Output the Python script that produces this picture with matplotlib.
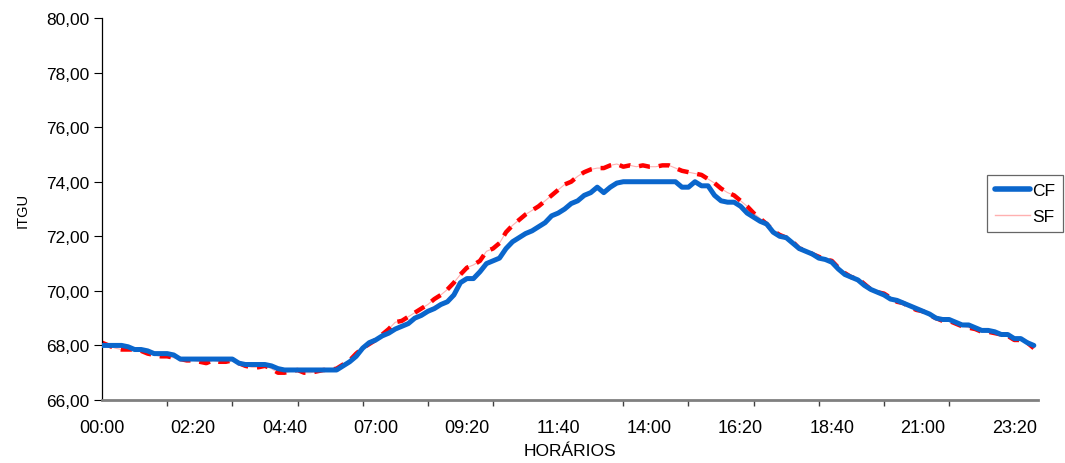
# ITGU ao longo do dia - CF x SF

import numpy as np
import matplotlib.pyplot as plt
from matplotlib.lines import Line2D
from matplotlib.ticker import MultipleLocator, FuncFormatter

# horarios em minutos, de 10 em 10 (00:00 ate 23:50)
minutos = np.arange(0, 1440, 10)

cf = [68.0, 68.0, 68.0, 68.0, 67.95, 67.85, 67.85, 67.8, 67.7, 67.7,
      67.7, 67.65, 67.5, 67.5, 67.5, 67.5, 67.5, 67.5, 67.5, 67.5,
      67.5, 67.35, 67.3, 67.3, 67.3, 67.3, 67.25, 67.15, 67.1, 67.1,
      67.1, 67.1, 67.1, 67.1, 67.1, 67.1, 67.1, 67.25, 67.4, 67.6,
      67.9, 68.1, 68.2, 68.35, 68.45, 68.6, 68.7, 68.8, 69.0, 69.1,
      69.25, 69.35, 69.5, 69.6, 69.85, 70.3, 70.45, 70.45, 70.7, 71.0,
      71.1, 71.2, 71.55, 71.8, 71.95, 72.1, 72.2, 72.35, 72.5, 72.75,
      72.85, 73.0, 73.2, 73.3, 73.5, 73.6, 73.8, 73.6, 73.8, 73.95,
      74.0, 74.0, 74.0, 74.0, 74.0, 74.0, 74.0, 74.0, 74.0, 73.8,
      73.8, 74.0, 73.85, 73.85, 73.5, 73.3, 73.25, 73.25, 73.1, 72.85,
      72.7, 72.55, 72.45, 72.15, 72.0, 71.95, 71.75, 71.55, 71.45, 71.35,
      71.2, 71.15, 71.05, 70.8, 70.6, 70.5, 70.4, 70.2, 70.05, 69.95,
      69.85, 69.7, 69.65, 69.55, 69.45, 69.35, 69.25, 69.15, 69.0, 68.95,
      68.95, 68.85, 68.75, 68.75, 68.65, 68.55, 68.55, 68.5, 68.4, 68.4,
      68.25, 68.25, 68.1, 68.0]

sf = [68.1, 68.0, 67.9, 67.85, 67.85, 67.85, 67.8, 67.7, 67.65, 67.6,
      67.6, 67.55, 67.5, 67.45, 67.45, 67.4, 67.35, 67.45, 67.4, 67.4,
      67.45, 67.35, 67.25, 67.2, 67.2, 67.25, 67.15, 67.0, 67.0, 67.05,
      67.1, 67.0, 67.0, 67.05, 67.1, 67.1, 67.15, 67.3, 67.45, 67.7,
      67.9, 68.05, 68.2, 68.4, 68.6, 68.85, 68.9, 69.05, 69.2, 69.35,
      69.5, 69.7, 69.85, 70.05, 70.3, 70.6, 70.85, 70.95, 71.1, 71.45,
      71.55, 71.75, 72.15, 72.4, 72.6, 72.8, 72.95, 73.1, 73.3, 73.5,
      73.7, 73.9, 74.0, 74.2, 74.35, 74.45, 74.5, 74.5, 74.6, 74.65,
      74.55, 74.6, 74.55, 74.6, 74.55, 74.55, 74.6, 74.6, 74.5, 74.4,
      74.35, 74.3, 74.25, 74.1, 73.95, 73.75, 73.6, 73.5, 73.3, 73.1,
      72.85, 72.65, 72.45, 72.2, 72.05, 71.95, 71.8, 71.55, 71.5, 71.35,
      71.25, 71.15, 71.1, 70.85, 70.65, 70.5, 70.45, 70.25, 70.05, 69.95,
      69.9, 69.75, 69.6, 69.55, 69.4, 69.3, 69.25, 69.1, 69.0, 68.9,
      68.9, 68.8, 68.7, 68.65, 68.6, 68.5, 68.5, 68.45, 68.4, 68.35,
      68.2, 68.2, 68.1, 67.9]

azul = '#0A66CC'

plt.rcParams['font.family'] = ['Liberation Sans', 'DejaVu Sans']

fig = plt.figure(figsize=(10.65, 4.64), dpi=100)
ax = fig.add_axes([0.0958, 0.1358, 0.8786, 0.8232])

# SF: linha fina rosada + tracos vermelhos (como no original)
ax.plot(minutos, sf, color='#ffb0b0', lw=0.8, zorder=2)
ax.plot(minutos, sf, color='red', lw=3.2, dashes=(2.5, 2.0), zorder=2)
ax.plot(minutos, cf, color=azul, lw=3.6, solid_capstyle='round', zorder=3)

ax.set_xlim(0, 1436)
ax.set_ylim(66, 80)

ax.yaxis.set_major_locator(MultipleLocator(2))
ax.yaxis.set_major_formatter(FuncFormatter(lambda v, p: f'{v:.2f}'.replace('.', ',')))

ax.xaxis.set_major_locator(MultipleLocator(140))
ax.xaxis.set_major_formatter(FuncFormatter(lambda v, p: f'{int(v) // 60:02d}:{int(v) % 60:02d}'))
ax.xaxis.set_minor_locator(MultipleLocator(100))

ax.tick_params(axis='y', length=6, width=0.8, labelsize=12.5, pad=3)
ax.tick_params(axis='x', which='major', length=0, labelsize=13, pad=14)
ax.tick_params(axis='x', which='minor', length=4, width=1, color='#404040')

for s in ['top', 'right']:
    ax.spines[s].set_visible(False)
ax.spines['left'].set_linewidth(0.9)
ax.spines['bottom'].set_color('#808080')
ax.spines['bottom'].set_linewidth(2)

ax.set_xlabel('HORÁRIOS', fontsize=12.5, labelpad=5)
ax.set_ylabel('ITGU', fontsize=10.5, labelpad=12)

handles = [Line2D([], [], color=azul, lw=4, solid_capstyle='round'),
           Line2D([], [], color='#ffb0b0', lw=1)]
leg = fig.legend(handles, ['CF', 'SF'], loc='upper left',
                 bbox_to_anchor=(0.9268, 0.6207), fontsize=12.5,
                 frameon=True, fancybox=False, handlelength=2.0,
                 handletextpad=0.15, borderpad=0.45, labelspacing=0.65,
                 borderaxespad=0)
leg.get_frame().set_edgecolor('#404040')
leg.get_frame().set_linewidth(0.9)

fig.savefig('out.png', dpi=100)
